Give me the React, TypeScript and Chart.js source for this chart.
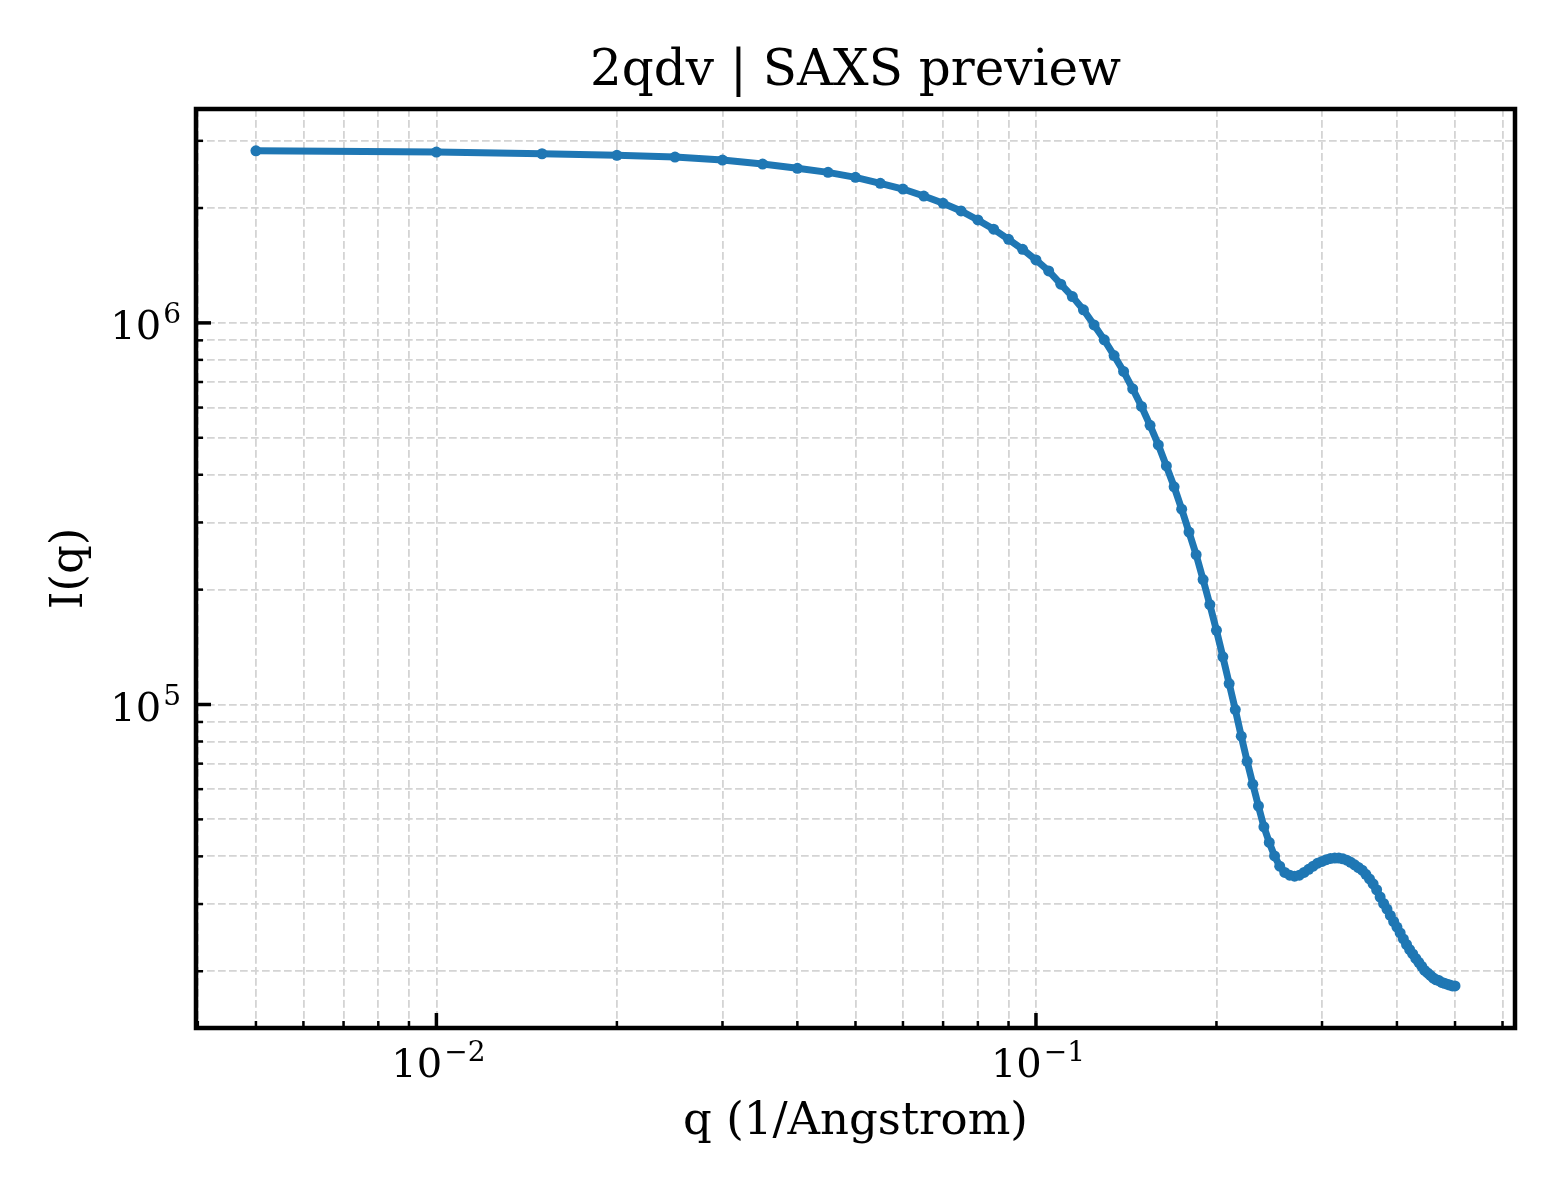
import { useEffect, useRef } from 'react'
import { Chart, registerables } from 'chart.js'

Chart.register(...registerables)

const FONT = 'DejaVu Serif'
const BLUE = '#1f77b4'

// q (1/Angstrom)
const Q = [
  0.005, 0.01, 0.015, 0.02, 0.025, 0.03, 0.035, 0.04, 0.045, 0.05,
  0.055, 0.06, 0.065, 0.07, 0.075, 0.08, 0.085, 0.09, 0.095, 0.1,
  0.105, 0.11, 0.115, 0.12, 0.125, 0.13, 0.135, 0.14, 0.145, 0.15,
  0.155, 0.16, 0.165, 0.17, 0.175, 0.18, 0.185, 0.19, 0.195, 0.2,
  0.205, 0.21, 0.215, 0.22, 0.225, 0.23, 0.235, 0.24, 0.245, 0.25,
  0.255, 0.26, 0.265, 0.27, 0.275, 0.28, 0.285, 0.29, 0.295, 0.3,
  0.305, 0.31, 0.315, 0.32, 0.325, 0.33, 0.335, 0.34, 0.345, 0.35,
  0.355, 0.36, 0.365, 0.37, 0.375, 0.38, 0.385, 0.39, 0.395, 0.4,
  0.405, 0.41, 0.415, 0.42, 0.425, 0.43, 0.435, 0.44, 0.445, 0.45,
  0.455, 0.46, 0.465, 0.47, 0.475, 0.48, 0.485, 0.49, 0.495, 0.5,
]

// I(q)
const INTENSITY = [
  2.825e6, 2.803e6, 2.775e6, 2.748e6, 2.72e6, 2.671e6, 2.607e6, 2.541e6, 2.48e6, 2.407e6,
  2.321e6, 2.243e6, 2.15e6, 2.058e6, 1.965e6, 1.861e6, 1.76e6, 1.656e6, 1.559e6, 1.462e6,
  1.368e6, 1.263e6, 1.172e6, 1.082e6, 9.88e5, 9.03e5, 8.21e5, 7.46e5, 6.72e5, 6.04e5,
  5.39e5, 4.79e5, 4.22e5, 3.72e5, 3.25e5, 2.83e5, 2.47e5, 2.125e5, 1.827e5, 1.565e5,
  1.333e5, 1.135e5, 9.7e4, 8.26e4, 7.1e4, 6.18e4, 5.42e4, 4.78e4, 4.35e4, 4.01e4,
  3.77e4, 3.63e4, 3.57e4, 3.55e4, 3.57e4, 3.63e4, 3.7e4, 3.77e4, 3.84e4, 3.88e4,
  3.92e4, 3.95e4, 3.96e4, 3.96e4, 3.94e4, 3.91e4, 3.86e4, 3.8e4, 3.74e4, 3.68e4,
  3.59e4, 3.49e4, 3.39e4, 3.27e4, 3.13e4, 3.01e4, 2.91e4, 2.8e4, 2.7e4, 2.61e4,
  2.52e4, 2.43e4, 2.35e4, 2.28e4, 2.22e4, 2.16e4, 2.11e4, 2.06e4, 2.01e4, 1.98e4,
  1.95e4, 1.92e4, 1.9e4, 1.89e4, 1.87e4, 1.86e4, 1.85e4, 1.84e4, 1.83e4, 1.83e4,
]

// tick positions + labels (base 10, exponent)
const X_MAJOR = [0.01, 0.1]
const X_MAJOR_EXP = ['−2', '−1']
const X_MINOR = [
  0.004, 0.005, 0.006, 0.007, 0.008, 0.009,
  0.02, 0.03, 0.04, 0.05, 0.06, 0.07, 0.08, 0.09,
  0.2, 0.3, 0.4, 0.5, 0.6,
]
const Y_MAJOR = [1e5, 1e6]
const Y_MAJOR_EXP = ['5', '6']
const Y_MINOR = [
  2e4, 3e4, 4e4, 5e4, 6e4, 7e4, 8e4, 9e4,
  2e5, 3e5, 4e5, 5e5, 6e5, 7e5, 8e5, 9e5,
  2e6, 3e6,
]

const X_MIN = 0.003972
const X_MAX = 0.6295
const Y_MIN = 1.42e4
const Y_MAX = 3.635e6

function tickList(major: number[], minor: number[]) {
  return [...major, ...minor].sort((a, b) => a - b).map((value) => ({ value }))
}

// "10" with a raised exponent, like matplotlib's mathtext
function drawPower(ctx: CanvasRenderingContext2D, exp: string, anchor: number, baseline: number, align: 'center' | 'right') {
  ctx.font = `40px "${FONT}"`
  const wb = ctx.measureText('10').width
  ctx.font = `28px "${FONT}"`
  const we = ctx.measureText(exp).width
  const total = wb + 2 + we
  const left = align === 'center' ? anchor - total / 2 : anchor - total
  ctx.textAlign = 'left'
  ctx.textBaseline = 'alphabetic'
  ctx.font = `40px "${FONT}"`
  ctx.fillText('10', left, baseline)
  ctx.font = `28px "${FONT}"`
  ctx.fillText(exp, left + wb + 2, baseline - 16)
}

// matplotlib-style frame, inward ticks on bottom/left and tick labels
const frameAndTicks = {
  id: 'frameAndTicks',
  afterDraw(chart: Chart) {
    const { ctx, chartArea: a } = chart
    const x = chart.scales.x
    const y = chart.scales.y
    ctx.save()
    ctx.strokeStyle = '#000'
    ctx.fillStyle = '#000'
    const drawX = (vals: number[], len: number, w: number) => {
      ctx.lineWidth = w
      for (const v of vals) {
        const px = x.getPixelForValue(v)
        if (px < a.left || px > a.right) continue
        ctx.beginPath()
        ctx.moveTo(px, a.bottom)
        ctx.lineTo(px, a.bottom - len)
        ctx.stroke()
      }
    }
    const drawY = (vals: number[], len: number, w: number) => {
      ctx.lineWidth = w
      for (const v of vals) {
        const py = y.getPixelForValue(v)
        if (py < a.top || py > a.bottom) continue
        ctx.beginPath()
        ctx.moveTo(a.left, py)
        ctx.lineTo(a.left + len, py)
        ctx.stroke()
      }
    }
    drawX(X_MINOR, 7, 2.5)
    drawX(X_MAJOR, 15, 3.5)
    drawY(Y_MINOR, 7, 2.5)
    drawY(Y_MAJOR, 15, 3.5)
    ctx.lineWidth = 4.5
    ctx.strokeRect(a.left, a.top, a.right - a.left, a.bottom - a.top)

    X_MAJOR.forEach((v, i) => drawPower(ctx, X_MAJOR_EXP[i], x.getPixelForValue(v) + 2, a.bottom + 49, 'center'))
    Y_MAJOR.forEach((v, i) => drawPower(ctx, Y_MAJOR_EXP[i], a.left - 15, y.getPixelForValue(v) + 16, 'right'))
    ctx.restore()
  },
}

export default function App() {
  const canvasRef = useRef<HTMLCanvasElement>(null)
  const chartRef = useRef<Chart | null>(null)

  useEffect(() => {
    if (!canvasRef.current) return
    chartRef.current?.destroy()

    const grid = {
      color: '#d4d4d4',
      lineWidth: 1.8,
      drawTicks: false,
    }
    const border = { display: false, dash: [7.7, 3.3] }

    chartRef.current = new Chart(canvasRef.current, {
      type: 'line',
      data: {
        datasets: [
          {
            label: 'I(q)',
            data: Q.map((q, i) => ({ x: q, y: INTENSITY[i] })),
            borderColor: BLUE,
            backgroundColor: BLUE,
            borderWidth: 7,
            pointRadius: 5.5,
            pointBorderWidth: 0,
            pointBackgroundColor: BLUE,
            tension: 0,
            fill: false,
          },
        ],
      },
      options: {
        responsive: false,
        animation: false,
        events: [],
        layout: { padding: { left: 0, top: 0, right: 45, bottom: 0 } },
        plugins: {
          legend: { display: false },
          tooltip: { enabled: false },
          title: {
            display: true,
            fullSize: false,
            text: '2qdv | SAXS preview',
            color: '#000',
            font: { family: FONT, size: 50, weight: 'normal' },
            padding: { top: 42, bottom: 7 },
          },
        },
        scales: {
          x: {
            type: 'logarithmic',
            min: X_MIN,
            max: X_MAX,
            grid,
            border,
            afterBuildTicks: (s: any) => {
              s.ticks = tickList(X_MAJOR, X_MINOR)
            },
            afterFit: (s: any) => {
              s.height = 172
            },
            ticks: { display: false, autoSkip: false, maxRotation: 0 },
            title: {
              display: true,
              text: 'q (1/Angstrom)',
              color: '#000',
              font: { family: FONT, size: 45 },
              padding: { top: 0, bottom: 51 },
            },
          },
          y: {
            type: 'logarithmic',
            min: Y_MIN,
            max: Y_MAX,
            grid,
            border,
            afterBuildTicks: (s: any) => {
              s.ticks = tickList(Y_MAJOR, Y_MINOR)
            },
            afterFit: (s: any) => {
              s.width = 196
            },
            ticks: { display: false, autoSkip: false },
            title: {
              display: true,
              text: 'I(q)',
              color: '#000',
              font: { family: FONT, size: 45 },
              padding: { top: 43, bottom: 0 },
            },
          },
        },
      },
      plugins: [frameAndTicks],
    })

    return () => {
      chartRef.current?.destroy()
      chartRef.current = null
    }
  }, [])

  return (
    <div style={{ position: 'absolute', left: 0, top: 0, width: 1560, height: 1200, background: '#fff' }}>
      <canvas ref={canvasRef} width={1560} height={1200} style={{ display: 'block' }} />
    </div>
  )
}
